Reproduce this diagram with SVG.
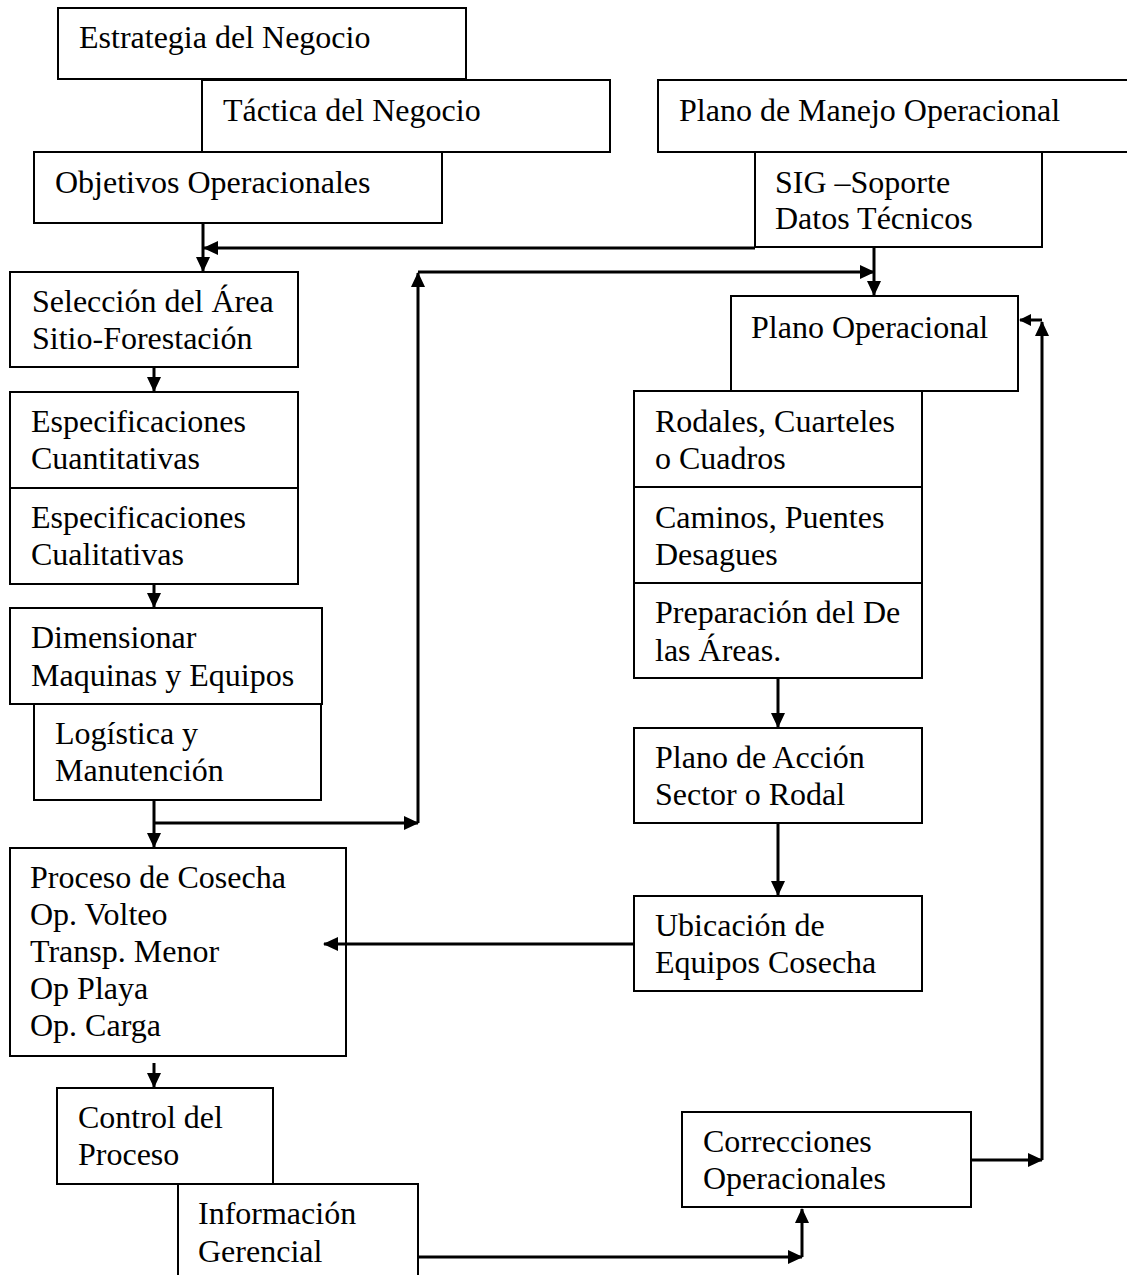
<svg xmlns="http://www.w3.org/2000/svg" width="1127" height="1275" viewBox="0 0 1127 1275">
<style>
.box{fill:#fff;stroke:#000;stroke-width:2}
text{font-family:"Liberation Serif","Times New Roman",serif;font-size:32px;fill:#000}
.c{fill:none;stroke:#000;stroke-width:3}
</style>
<defs>
<marker id="ah" markerWidth="15" markerHeight="14" refX="14" refY="7" orient="auto" markerUnits="userSpaceOnUse">
<path d="M0,0 L15,7 L0,14 z" fill="#000"/>
</marker>
<marker id="ahs" markerWidth="12" markerHeight="12" refX="11" refY="6" orient="auto" markerUnits="userSpaceOnUse">
<path d="M0,0 L12,6 L0,12 z" fill="#000"/>
</marker>
</defs>
<rect width="1127" height="1275" fill="#fff"/>

<g id="estrategia"><rect class="box" x="58" y="8" width="408" height="71"/><text x="79" y="48">Estrategia del Negocio</text></g>
<g id="tactica"><rect class="box" x="202" y="80" width="408" height="72"/><text x="223" y="121">Táctica del Negocio</text></g>
<g id="objetivos"><rect class="box" x="34" y="152" width="408" height="71"/><text x="55" y="193">Objetivos Operacionales</text></g>
<g id="plano-manejo"><rect class="box" x="658" y="80" width="475" height="72"/><text x="679" y="121">Plano de Manejo Operacional</text></g>
<g id="sig"><rect class="box" x="755" y="152" width="287" height="95"/><text x="775" y="193">SIG –Soporte</text><text x="775" y="229">Datos Técnicos</text></g>
<g id="seleccion"><rect class="box" x="10" y="272" width="288" height="95"/><text x="32" y="312">Selección del Área</text><text x="32" y="349">Sitio-Forestación</text></g>
<g id="esp-cuant"><rect class="box" x="10" y="392" width="288" height="96"/><text x="31" y="432">Especificaciones</text><text x="31" y="469">Cuantitativas</text></g>
<g id="esp-cual"><rect class="box" x="10" y="488" width="288" height="96"/><text x="31" y="528">Especificaciones</text><text x="31" y="565">Cualitativas</text></g>
<g id="dimensionar"><rect class="box" x="10" y="608" width="312" height="96"/><text x="31" y="648">Dimensionar</text><text x="31" y="686">Maquinas y Equipos</text></g>
<g id="logistica"><rect class="box" x="34" y="704" width="287" height="96"/><text x="55" y="744">Logística y</text><text x="55" y="781">Manutención</text></g>
<g id="proceso"><rect class="box" x="10" y="848" width="336" height="208"/><text x="30" y="888">Proceso de Cosecha</text><text x="30" y="925">Op. Volteo</text><text x="30" y="962">Transp. Menor</text><text x="30" y="999">Op Playa</text><text x="30" y="1036">Op. Carga</text></g>
<g id="control"><rect class="box" x="57" y="1088" width="216" height="96"/><text x="78" y="1128">Control del</text><text x="78" y="1165">Proceso</text></g>
<g id="informacion"><rect class="box" x="178" y="1184" width="240" height="100"/><text x="198" y="1224">Información</text><text x="198" y="1262">Gerencial</text></g>
<g id="plano-operacional"><rect class="box" x="731" y="296" width="287" height="95"/><text x="751" y="338">Plano Operacional</text></g>
<g id="rodales"><rect class="box" x="634" y="391" width="288" height="96"/><text x="655" y="432">Rodales, Cuarteles</text><text x="655" y="469">o Cuadros</text></g>
<g id="caminos"><rect class="box" x="634" y="487" width="288" height="96"/><text x="655" y="528">Caminos, Puentes</text><text x="655" y="565">Desagues</text></g>
<g id="preparacion"><rect class="box" x="634" y="583" width="288" height="95"/><text x="655" y="623">Preparación del De</text><text x="655" y="661">las Áreas.</text></g>
<g id="plano-accion"><rect class="box" x="634" y="728" width="288" height="95"/><text x="655" y="768">Plano de Acción</text><text x="655" y="805">Sector o Rodal</text></g>
<g id="ubicacion"><rect class="box" x="634" y="896" width="288" height="95"/><text x="655" y="936">Ubicación de</text><text x="655" y="973">Equipos Cosecha</text></g>
<g id="correcciones"><rect class="box" x="682" y="1112" width="289" height="95"/><text x="703" y="1152">Correcciones</text><text x="703" y="1189">Operacionales</text></g>

<g id="connectors">
<path class="c" d="M203,223 V271" marker-end="url(#ah)"/>
<path class="c" d="M755,248 H204" marker-end="url(#ah)"/>
<path class="c" d="M154,367 V391" marker-end="url(#ah)"/>
<path class="c" d="M154,584 V607" marker-end="url(#ah)"/>
<path class="c" d="M154,800 V847" marker-end="url(#ah)"/>
<path class="c" d="M154,823 H418" marker-end="url(#ah)"/>
<path class="c" d="M418,823 V273" marker-end="url(#ah)"/>
<path class="c" d="M418,272 H874" marker-end="url(#ah)"/>
<path class="c" d="M874,247 V295" marker-end="url(#ah)"/>
<path class="c" d="M778,678 V727" marker-end="url(#ah)"/>
<path class="c" d="M778,823 V895" marker-end="url(#ah)"/>
<path class="c" d="M634,944 H324" marker-end="url(#ah)"/>
<path class="c" d="M154,1063 V1087" marker-end="url(#ah)"/>
<path class="c" d="M418,1257 H802" marker-end="url(#ah)"/>
<path class="c" d="M802,1257 V1209" marker-end="url(#ah)"/>
<path class="c" d="M971,1160 H1042" marker-end="url(#ah)"/>
<path class="c" d="M1042,1160 V322" marker-end="url(#ah)"/>
<path class="c" d="M1042,320 H1020" marker-end="url(#ahs)"/>
</g>
</svg>
